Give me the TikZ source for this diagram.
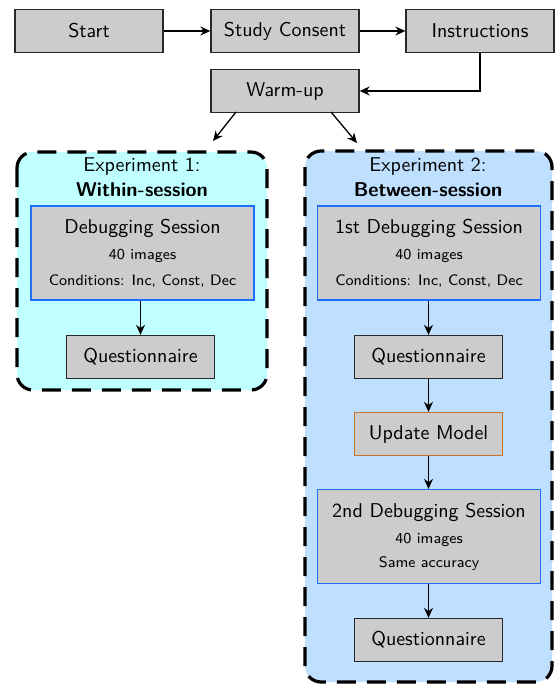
\documentclass[tikz,border=0pt]{standalone}
\usetikzlibrary{arrows.meta}
\renewcommand{\familydefault}{\sfdefault}
\definecolor{boxgray}{RGB}{204,204,204}
\definecolor{expcyan}{RGB}{191,255,255}
\definecolor{expblue}{RGB}{191,223,255}
\definecolor{sessblue}{RGB}{30,110,255}
\definecolor{updorange}{RGB}{200,115,45}
\definecolor{edgegray}{RGB}{40,40,40}
\begin{document}
\begin{tikzpicture}[x=0.5pt,y=-0.5pt,
  stepbox/.style={draw=edgegray,line width=0.65pt,fill=boxgray,minimum width=74pt,minimum height=21.5pt,inner sep=0pt,font=\normalsize},
  sessbox/.style={draw=sessblue,line width=0.65pt,fill=boxgray,minimum width=111.5pt,minimum height=47pt,inner sep=0pt},
  updbox/.style={draw=updorange,line width=0.65pt,fill=boxgray,minimum width=74pt,minimum height=21.5pt,inner sep=0pt},
  container/.style={draw=black,line width=1.6pt,dash pattern=on 9.5pt off 5.5pt,rounded corners=8pt},
  conn/.style={-{Stealth[length=5pt,width=4.5pt]},line width=0.65pt,black},
  small/.style={font=\fontsize{7.6}{9}\selectfont,inner sep=0pt}
]
\useasboundingbox (0,0) rectangle (555,685);
% containers
\draw[container,fill=expcyan] (17,152) rectangle (267,390);
\draw[container,fill=expblue] (305,151) rectangle (552,682);
% top row
\node[stepbox] (start) at (89,31) {Start};
\node[stepbox] (consent) at (285,31) {Study Consent};
\node[stepbox] (instr) at (480,31) {Instructions};
\node[stepbox] (warm) at (285,91) {Warm-up};
\coordinate (e1top) at (213,141);
\coordinate (e2top) at (357,143);
% experiment 1
\node[inner sep=0pt] (e1t1) at (142,167) {Experiment 1:};
\node[inner sep=0pt,font=\bfseries] (e1t2) at (142,190) {Within-session};
\node[sessbox] (dbg1) at (142.5,253) {};
\node[inner sep=0pt] (dbg1a) at (142.5,228) {Debugging Session};
\node[small] (dbg1b) at (142.5,256) {40 images};
\node[small] (dbg1c) at (142.5,281) {Conditions: Inc, Const, Dec};
\node[stepbox] (q1) at (140.5,357) {Questionnaire};
% experiment 2
\node[inner sep=0pt] (e2t1) at (428,167) {Experiment 2:};
\node[inner sep=0pt,font=\bfseries] (e2t2) at (428,190) {Between-session};
\node[sessbox] (dbg2) at (429,253) {};
\node[inner sep=0pt] (dbg2a) at (429,228) {1st Debugging Session};
\node[small] (dbg2b) at (429,256) {40 images};
\node[small] (dbg2c) at (429,281) {Conditions: Inc, Const, Dec};
\node[stepbox] (q2) at (428.5,357) {Questionnaire};
\node[updbox] (upd) at (428.5,434) {Update Model};
\node[sessbox] (dbg3) at (429,536.5) {};
\node[inner sep=0pt] (dbg3a) at (429,512) {2nd Debugging Session};
\node[small] (dbg3b) at (429,540) {40 images};
\node[small] (dbg3c) at (429,564) {Same accuracy};
\node[stepbox] (q3) at (428.5,640) {Questionnaire};
% connectors
\draw[conn] (start) -- (consent);
\draw[conn] (consent) -- (instr);
\draw[conn] (instr.south) |- (warm.east);
\draw[conn] (236,112) -- (e1top);
\draw[conn] (331,112) -- (e2top);
\draw[conn] (dbg1.south -| q1) -- (q1.north);
\draw[conn] (dbg2.south -| q2) -- (q2.north);
\draw[conn] (q2) -- (upd);
\draw[conn] (upd.south) -- (dbg3.north -| upd);
\draw[conn] (dbg3.south -| q3) -- (q3.north);
\end{tikzpicture}
\end{document}
